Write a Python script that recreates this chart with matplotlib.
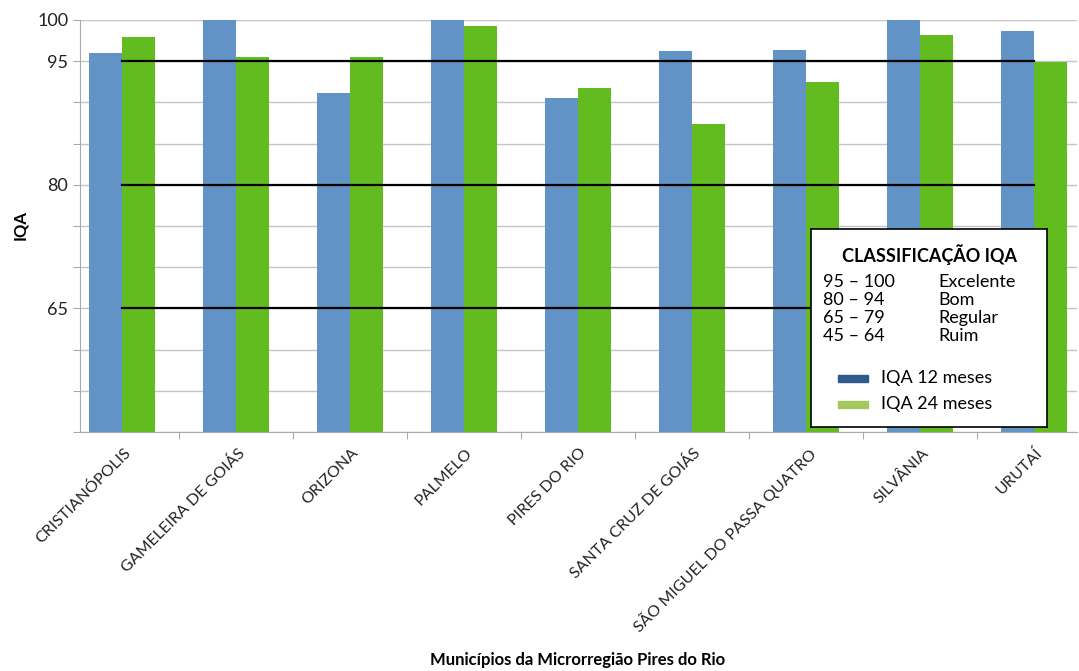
import matplotlib
matplotlib.use("Agg")
import matplotlib.pyplot as plt
from matplotlib.patches import Rectangle
import numpy as np

plt.rcParams["font.family"] = ["Lato", "DejaVu Sans"]

municipios = ["CRISTIANÓPOLIS", "GAMELEIRA DE GOIÁS", "ORIZONA", "PALMELO", "PIRES DO RIO",
              "SANTA CRUZ DE GOIÁS", "SÃO MIGUEL DO PASSA QUATRO", "SILVÂNIA", "URUTAÍ"]
iqa_12 = [96.0, 100.0, 91.1, 100.0, 90.5, 96.2, 96.3, 100.0, 98.7]
iqa_24 = [97.9, 95.5, 95.5, 99.3, 91.8, 87.4, 92.5, 98.2, 94.9]
limites = [95, 80, 65]
faixas = ["95 – 100", "80 – 94", "65 – 79", "45 – 64"]
classes = ["Excelente", "Bom", "Regular", "Ruim"]
series = ["IQA 12 meses", "IQA 24 meses"]

W, H = 1079, 671
fig = plt.figure(figsize=(W / 100, H / 100), dpi=100)
ax = fig.add_axes([80 / W, 1 - 432 / H, (1077 - 80) / W, (432 - 20) / H])

x = np.arange(len(municipios))
bw = 0.29
ax.bar(x - bw / 2, iqa_12, bw, color="#6193C6", zorder=2)
ax.bar(x + bw / 2, iqa_24, bw, color="#62BC1F", zorder=2)
for lim in limites:
    ax.plot([x[0], x[-1]], [lim, lim], color="black", lw=1.6, zorder=3)

ax.set_ylim(50, 100)
ax.set_xlim(-0.368, 8.377)
ax.set_yticks(np.arange(50, 101, 5))
ax.set_yticklabels(["" if v not in (65, 80, 95, 100) else str(v) for v in range(50, 101, 5)],
                   fontsize=13, color="#222222")
ax.yaxis.grid(True, color="#C4C4C4", lw=1, zorder=0)
ax.set_xticks(np.arange(0.5, 8, 1))
ax.set_xticklabels([])
ax.tick_params(axis="both", color="#AAAAAA", length=5)
for sp in ["top", "right"]:
    ax.spines[sp].set_visible(False)
for sp in ["left", "bottom"]:
    ax.spines[sp].set_color("#AAAAAA")
for i, nome in enumerate(municipios):
    ax.annotate(nome, xy=(i, 50), xytext=(1, -10), textcoords="offset points",
                rotation=45, ha="right", va="top", rotation_mode="anchor",
                fontsize=11.5, color="#222222", annotation_clip=False)

fig.text(20 / W, 1 - 225 / H, "IQA", rotation=90, ha="center", va="center",
         fontsize=12, fontweight="bold")
fig.text(578 / W, 1 - 660 / H, "Municípios da Microrregião Pires do Rio", ha="center",
         va="center", fontsize=12, fontweight="bold")

# caixa de classificação
lg = fig.add_axes([811 / W, 1 - 427 / H, 236 / W, 198 / H], zorder=5)
lg.set_xlim(0, 236)
lg.set_ylim(198, 0)
lg.set_xticks([])
lg.set_yticks([])
for sp in lg.spines.values():
    sp.set_color("black")
    sp.set_linewidth(1.2)
lg.text(119, 26, "CLASSIFICAÇÃO IQA", ha="center", va="center", fontsize=13, fontweight="bold")
for k, (f, c) in enumerate(zip(faixas, classes)):
    yy = 53 + k * 18
    lg.text(12, yy, f, ha="left", va="center", fontsize=13)
    lg.text(127, yy, c, ha="left", va="center", fontsize=13)
for k, (nome, cor) in enumerate(zip(series, ["#2F5B8C", "#A4C85E"])):
    yy = 149 + k * 26
    lg.add_patch(Rectangle((27, yy - 3), 30, 7, color=cor))
    lg.text(70, yy, nome, ha="left", va="center", fontsize=13)

fig.savefig("out.png", dpi=100)
